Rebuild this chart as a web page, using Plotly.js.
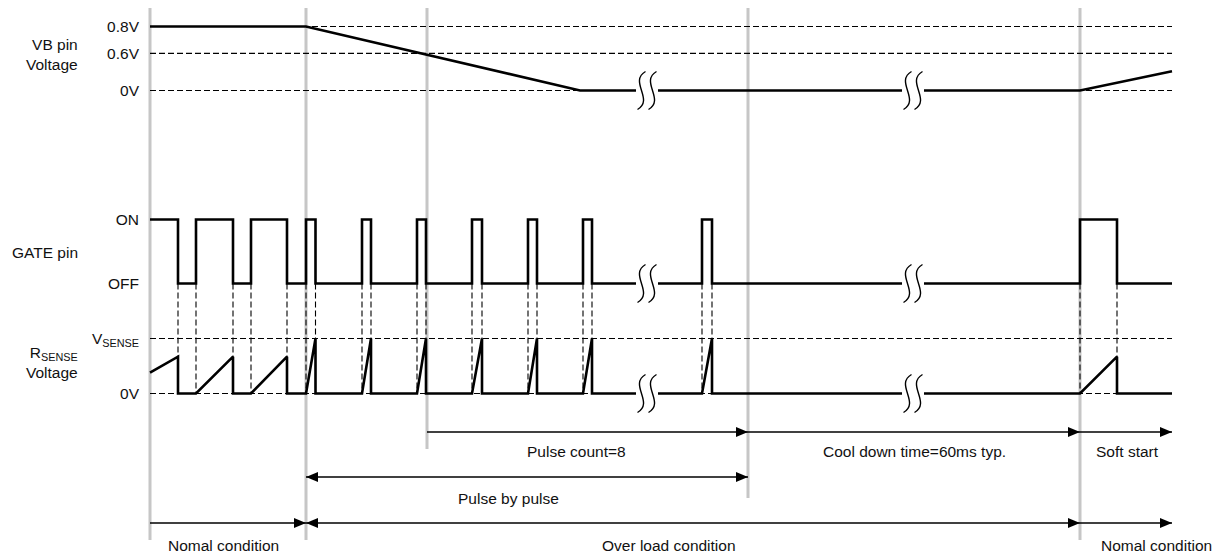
<!DOCTYPE html>
<html><head><meta charset="utf-8">
<script src="https://cdn.plot.ly/plotly-3.0.1.min.js"></script>
<style>html,body{margin:0;padding:0;background:#fff}#chart{width:1221px;height:556px}</style>
</head><body><div id="chart"></div>
<script>
// ---------------- data (time along the diagram, schematic signal levels) ----------------
const phaseTimes = [0, 156, 277, 598, 930];

const vbTime  = [0, 156, 430, 930, 1022];
const vbLevel = [1, 1, 0, 0, 0.3];
const vbTickLevel = [0, 0.58, 1];
const vbTickText  = ['0V', '0.6V', '0.8V'];

const gateTime  = [0, 28, 46, 83, 101, 137, 156, 165.5, 212, 221, 267, 276, 322, 332, 378, 387, 433, 442, 552, 562, 930, 967, 1022];
const gateState = [1, 0, 1, 0, 1, 0, 1, 0, 1, 0, 1, 0, 1, 0, 1, 0, 1, 0, 1, 0, 1, 0, 0];
const gateTickText = ['OFF', 'ON'];

const rsTime  = [0, 28, 28, 46, 83, 83, 101, 137, 137, 156, 165.5, 165.5, 212, 221, 221, 267, 276, 276, 322, 332, 332, 378, 387, 387, 433, 442, 442, 552, 562, 562, 930, 967, 967, 1022];
const rsLevel = [0.38, 0.67, 0, 0, 0.67, 0, 0, 0.67, 0, 0, 1, 0, 0, 1, 0, 0, 1, 0, 0, 1, 0, 0, 1, 0, 0, 1, 0, 0, 1, 0, 0, 0.67, 0, 0];
const rsTickText = ['0V', 'V<sub>SENSE</sub>'];

const breakTimes = [497, 763];

const spanFrom  = [277, 598, 930, 156, 0, 156, 930];
const spanTo    = [598, 930, 1022, 598, 156, 930, 1022];
const spanRow   = [0, 0, 0, 1, 2, 2, 2];
const spanBoth  = [false, false, false, true, false, true, false];
const spanLabel = ['Pulse count=8', 'Cool down time=60ms typ.', 'Soft start', 'Pulse by pulse', 'Nomal condition', 'Over load condition', 'Nomal condition'];
const spanLabelAt = [426, 764, 977, 358, 73, 519, 1006];

const rowLabels = ['VB pin<br>Voltage', 'GATE pin', 'R<sub>SENSE</sub><br>Voltage'];

// ---------------- layout constants ----------------
const H = 556, W = 1221;
const vbRows   = [90.5, 26.5];    // rows of level 0 and level 1
const gateRows = [283.5, 219.5];
const rsRows   = [393.5, 338.5];
const phaseTop = 8;
const phaseBottom = [540, 540, 449, 498, 540];
const arrowRows = [432, 477, 523];
const labelRows = [451, 498, 556];
const labelAnchor = ['middle', 'middle', 'bottom'];
const rowLabelRows = [54.5, 252, 362];
const FONT = 'Liberation Sans, Arial, Helvetica, sans-serif';
const font = {family: FONT, size: 15.5, color: '#111'};

function rangeFor(rows) {
  const ppu = rows[0] - rows[1];
  return [-(H - rows[0]) / ppu, rows[0] / ppu];
}

const black = '#000';
const traces = [
  {x: vbTime, y: vbLevel, yaxis: 'y', mode: 'lines', line: {color: black, width: 2.6}, hoverinfo: 'skip'},
  {x: gateTime, y: gateState, yaxis: 'y2', mode: 'lines', line: {color: black, width: 2.6, shape: 'hv'}, hoverinfo: 'skip'},
  {x: rsTime, y: rsLevel, yaxis: 'y3', mode: 'lines', line: {color: black, width: 2.6}, hoverinfo: 'skip'}
];

const shapes = [];
// gray phase markers
phaseTimes.forEach((t, i) => shapes.push({type: 'line', xref: 'x', yref: 'y4', x0: t, x1: t, y0: phaseTop, y1: phaseBottom[i],
  line: {color: '#c6c6c6', width: 3}, layer: 'below'}));
const dash = {color: black, width: 1.1, dash: '6px,3px'};
const xEnd = vbTime[vbTime.length - 1];
vbTickLevel.forEach(L => shapes.push({type: 'line', xref: 'x', yref: 'y', x0: 0, x1: xEnd, y0: L, y1: L, line: dash, layer: 'below'}));
[0, 1].forEach(L => shapes.push({type: 'line', xref: 'x', yref: 'y3', x0: 0, x1: xEnd, y0: L, y1: L, line: dash, layer: 'below'}));
// vertical dashed guides at every gate edge
gateTime.slice(1, -1).forEach(t => shapes.push({type: 'line', xref: 'x', yref: 'y4', x0: t, x1: t, y0: gateRows[0], y1: rsRows[0], line: dash, layer: 'below'}));

// break symbols (two S-shaped strokes over a white gap)
['y', 'y2', 'y3'].forEach(ax => breakTimes.forEach(t => {
  shapes.push({type: 'rect', xref: 'x', yref: ax, xsizemode: 'pixel', ysizemode: 'pixel', xanchor: t, yanchor: 0,
    x0: -11, x1: 11, y0: -5, y1: 5, fillcolor: '#fff', line: {width: 0}, layer: 'above'});
  [-5.5, 5.5].forEach(s => shapes.push({type: 'path', xref: 'x', yref: ax, xsizemode: 'pixel', ysizemode: 'pixel', xanchor: t, yanchor: 0,
    path: `M${s + 4},19 C${s - 13},9 ${s + 13},-9 ${s - 4},-19`, line: {color: black, width: 1.4}, fillcolor: 'rgba(0,0,0,0)', layer: 'above'}));
}));

// span arrows
const annotations = [];
spanFrom.forEach((a, i) => {
  const b = spanTo[i], r = arrowRows[spanRow[i]];
  shapes.push({type: 'line', xref: 'x', yref: 'y4', x0: a, x1: b, y0: r, y1: r, line: {color: black, width: 1.3}});
  shapes.push({type: 'path', xref: 'x', yref: 'y4', xsizemode: 'pixel', ysizemode: 'pixel', xanchor: b, yanchor: r,
    path: 'M0,0 L-12,5 L-12,-5 Z', fillcolor: black, line: {width: 0}});
  if (spanBoth[i]) shapes.push({type: 'path', xref: 'x', yref: 'y4', xsizemode: 'pixel', ysizemode: 'pixel', xanchor: a, yanchor: r,
    path: 'M0,0 L12,5 L12,-5 Z', fillcolor: black, line: {width: 0}});
  annotations.push({xref: 'x', yref: 'y4', x: spanLabelAt[i], y: labelRows[spanRow[i]], text: spanLabel[i], showarrow: false,
    xanchor: 'center', yanchor: labelAnchor[spanRow[i]], font: font});
});
rowLabels.forEach((txt, i) => annotations.push({xref: 'paper', yref: 'y4', x: 0, xshift: -60, y: rowLabelRows[i], text: txt, showarrow: false,
  xanchor: 'right', yanchor: 'middle', align: 'right', font: font}));

const yBase = {showgrid: false, zeroline: false, showline: false, ticks: '', tickfont: font, fixedrange: true, ticklabelstandoff: 0};
const layout = {
  width: W, height: H, margin: {l: 140, r: 40, t: 0, b: 0, pad: 0},
  paper_bgcolor: '#fff', plot_bgcolor: '#fff', showlegend: false,
  xaxis: {range: [-10, 1031], visible: false, fixedrange: true},
  yaxis:  Object.assign({}, yBase, {range: rangeFor(vbRows), tickvals: vbTickLevel, ticktext: vbTickText}),
  yaxis2: Object.assign({}, yBase, {overlaying: 'y', range: rangeFor(gateRows), tickvals: [0, 1], ticktext: gateTickText}),
  yaxis3: Object.assign({}, yBase, {overlaying: 'y', range: rangeFor(rsRows), tickvals: [0, 1], ticktext: rsTickText}),
  yaxis4: {overlaying: 'y', range: [H, 0], visible: false, fixedrange: true},
  shapes: shapes, annotations: annotations
};
Plotly.newPlot('chart', traces, layout, {staticPlot: true, displayModeBar: false});
</script></body></html>
